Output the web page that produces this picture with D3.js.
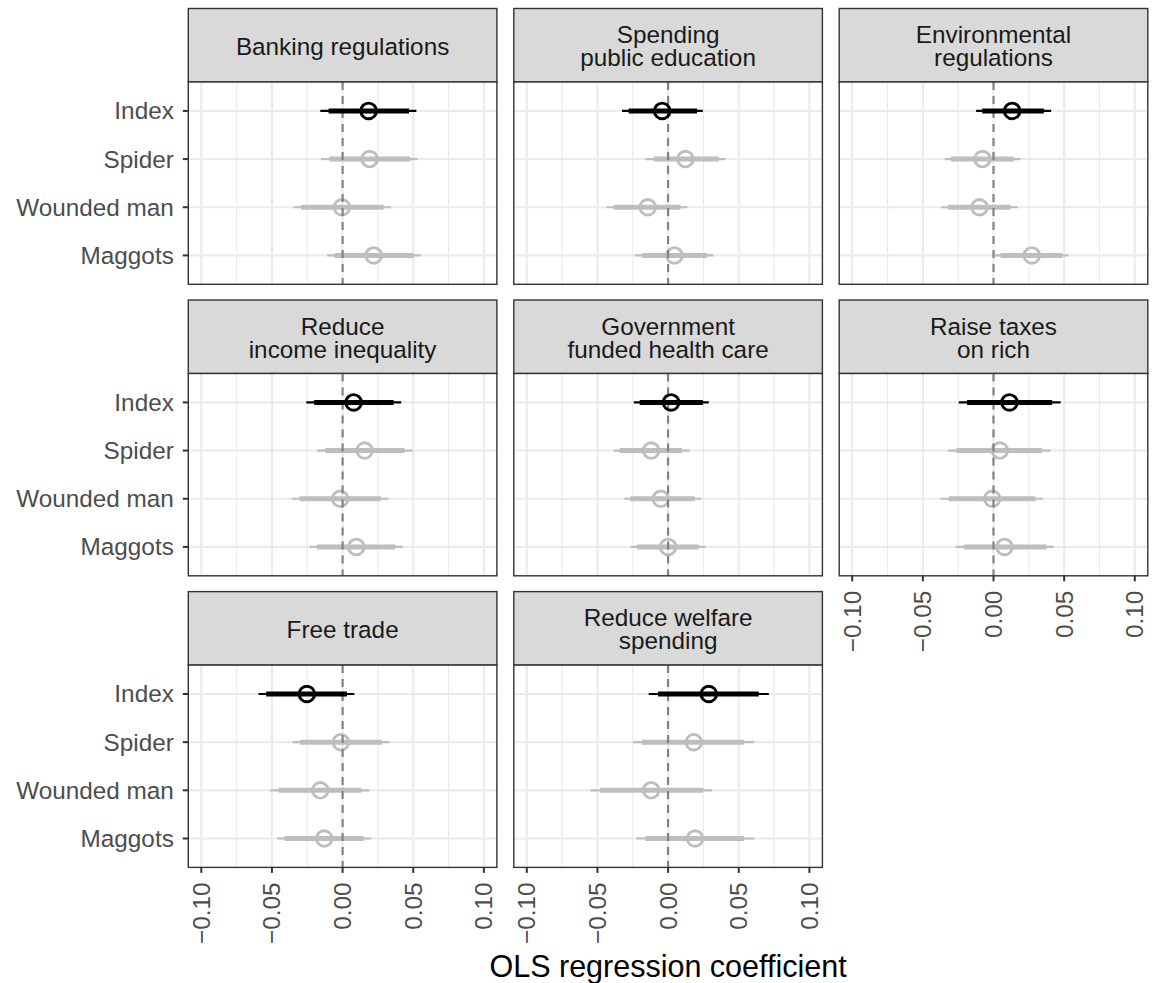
<!DOCTYPE html>
<html>
<head>
<meta charset="utf-8">
<script src="https://cdn.jsdelivr.net/npm/d3@7"></script>
<style>
  html, body { margin: 0; padding: 0; background: #fff; }
  svg { display: block; font-family: "Liberation Sans", Arial, Helvetica, sans-serif; }
</style>
</head>
<body>
<svg id="chart" width="1160" height="983"></svg>
<script>
// ---------------- data ----------------
const panels = [
  "Banking regulations",
  "Spending\npublic education",
  "Environmental\nregulations",
  "Reduce\nincome inequality",
  "Government\nfunded health care",
  "Raise taxes\non rich",
  "Free trade",
  "Reduce welfare\nspending"
];
const models = ["Index", "Spider", "Wounded man", "Maggots"];

// point estimates per panel (rows: panels; cols: models)
const estimate = [
  [ 0.0184,  0.0191, -0.0005,  0.0220],
  [-0.0042,  0.0123, -0.0144,  0.0045],
  [ 0.0132, -0.0078, -0.0099,  0.0271],
  [ 0.0078,  0.0156, -0.0017,  0.0097],
  [ 0.0021, -0.0120, -0.0052,  0.0000],
  [ 0.0113,  0.0045, -0.0009,  0.0078],
  [-0.0253, -0.0012, -0.0158, -0.0130],
  [ 0.0288,  0.0182, -0.0120,  0.0191]
];
// inner (thick) interval
const innerLow = [
  [-0.0099, -0.0094, -0.0295, -0.0057],
  [-0.0279, -0.0102, -0.0385, -0.0184],
  [-0.0080, -0.0300, -0.0323,  0.0050],
  [-0.0201, -0.0123, -0.0305, -0.0182],
  [-0.0201, -0.0342, -0.0267, -0.0220],
  [-0.0187, -0.0262, -0.0316, -0.0210],
  [-0.0541, -0.0300, -0.0453, -0.0411],
  [-0.0071, -0.0184, -0.0482, -0.0161]
];
const innerHigh = [
  [ 0.0470,  0.0479,  0.0290,  0.0503],
  [ 0.0205,  0.0359,  0.0087,  0.0276],
  [ 0.0356,  0.0144,  0.0120,  0.0486],
  [ 0.0361,  0.0439,  0.0271,  0.0373],
  [ 0.0246,  0.0099,  0.0189,  0.0217],
  [ 0.0415,  0.0345,  0.0297,  0.0375],
  [ 0.0031,  0.0279,  0.0132,  0.0149],
  [ 0.0642,  0.0538,  0.0248,  0.0538]
];
// outer (thin) interval
const outerLow = [
  [-0.0158, -0.0153, -0.0347, -0.0111],
  [-0.0326, -0.0161, -0.0437, -0.0236],
  [-0.0123, -0.0345, -0.0371,  0.0009],
  [-0.0257, -0.0182, -0.0359, -0.0234],
  [-0.0243, -0.0385, -0.0309, -0.0264],
  [-0.0246, -0.0321, -0.0375, -0.0269],
  [-0.0595, -0.0354, -0.0512, -0.0465],
  [-0.0137, -0.0248, -0.0550, -0.0227]
];
const outerHigh = [
  [ 0.0522,  0.0531,  0.0342,  0.0555],
  [ 0.0246,  0.0406,  0.0137,  0.0321],
  [ 0.0408,  0.0191,  0.0172,  0.0529],
  [ 0.0415,  0.0496,  0.0326,  0.0427],
  [ 0.0288,  0.0153,  0.0234,  0.0264],
  [ 0.0475,  0.0404,  0.0352,  0.0427],
  [ 0.0083,  0.0331,  0.0189,  0.0203],
  [ 0.0713,  0.0609,  0.0312,  0.0609]
];
const xTicks = [-0.10, -0.05, 0.00, 0.05, 0.10];
const xTickLabels = ["\u22120.10", "\u22120.05", "0.00", "0.05", "0.10"];
const xMinor = [-0.075, -0.025, 0.025, 0.075];
const xTitle = "OLS regression coefficient";

// ---------------- layout ----------------
const svg = d3.select("#chart");
const colX = [188.3, 513.8, 839.2];
const rowY = [8.5, 300.0, 591.6];
const panelW = 308.6;
const stripH = 73.5;
const plotH = 202.3;
const xDomain = [-0.1092, 0.1092];
const fs = 24.3;

const x = d3.scaleLinear().domain(xDomain).range([0, panelW]);
const y = d3.scalePoint().domain(models).range([0, plotH]).padding(0.6);

const greyCol = "#bebebe";
const colorFor = m => m === "Index" ? "#000000" : greyCol;

panels.forEach((title, i) => {
  const col = i % 3, row = Math.floor(i / 3);
  const gx = colX[col], gy = rowY[row];
  const g = svg.append("g").attr("transform", `translate(${gx},${gy})`);

  // strip
  g.append("rect").attr("x", 0).attr("y", 0).attr("width", panelW).attr("height", stripH)
    .attr("fill", "#d9d9d9").attr("stroke", "#333333").attr("stroke-width", 1.4);
  const lines = title.split("\n");
  const lh = 23.3;
  const st = g.append("text")
    .attr("text-anchor", "middle")
    .attr("font-size", fs)
    .attr("fill", "#1a1a1a");
  lines.forEach((ln, k) => {
    st.append("tspan")
      .attr("x", panelW / 2)
      .attr("y", stripH / 2 + 1 + (k - (lines.length - 1) / 2) * lh)
      .attr("dy", "0.35em")
      .text(ln);
  });

  // plot panel
  const p = g.append("g").attr("transform", `translate(0,${stripH})`);
  p.append("rect").attr("width", panelW).attr("height", plotH).attr("fill", "#ffffff");
  // minor grid
  p.selectAll("line.minor").data(xMinor).enter().append("line")
    .attr("x1", d => x(d)).attr("x2", d => x(d)).attr("y1", 0).attr("y2", plotH)
    .attr("stroke", "#ebebeb").attr("stroke-width", 1.1);
  // major grid
  p.selectAll("line.majorx").data(xTicks).enter().append("line")
    .attr("x1", d => x(d)).attr("x2", d => x(d)).attr("y1", 0).attr("y2", plotH)
    .attr("stroke", "#ebebeb").attr("stroke-width", 2.1);
  p.selectAll("line.majory").data(models).enter().append("line")
    .attr("x1", 0).attr("x2", panelW).attr("y1", d => y(d)).attr("y2", d => y(d))
    .attr("stroke", "#ebebeb").attr("stroke-width", 2.1);

  const rows = models.map((m, j) => ({
    m, est: estimate[i][j], il: innerLow[i][j], ih: innerHigh[i][j],
    ol: outerLow[i][j], oh: outerHigh[i][j]
  }));
  const drawRows = (sel) => {
    sel.forEach(d => {
      const c = colorFor(d.m);
      p.append("line").attr("x1", x(d.ol)).attr("x2", x(d.oh))
        .attr("y1", y(d.m)).attr("y2", y(d.m))
        .attr("stroke", c).attr("stroke-width", 2.2);
      p.append("line").attr("x1", x(d.il)).attr("x2", x(d.ih))
        .attr("y1", y(d.m)).attr("y2", y(d.m))
        .attr("stroke", c).attr("stroke-width", 5);
      p.append("circle").attr("cx", x(d.est)).attr("cy", y(d.m)).attr("r", 7.8)
        .attr("fill", "none").attr("stroke", c).attr("stroke-width", 2.9);
    });
  };
  drawRows(rows.filter(d => d.m !== "Index"));
  // zero reference line
  p.append("line").attr("x1", x(0)).attr("x2", x(0)).attr("y1", 0).attr("y2", plotH)
    .attr("stroke", "#7f7f7f").attr("stroke-width", 2.1).attr("stroke-dasharray", "8,6");
  drawRows(rows.filter(d => d.m === "Index"));

  // border
  p.append("rect").attr("width", panelW).attr("height", plotH)
    .attr("fill", "none").attr("stroke", "#333333").attr("stroke-width", 1.4);

  // y axis (first column)
  if (col === 0) {
    const ya = p.append("g");
    models.forEach(m => {
      ya.append("line").attr("x1", -5.5).attr("x2", 0).attr("y1", y(m)).attr("y2", y(m))
        .attr("stroke", "#333333").attr("stroke-width", 2);
      ya.append("text").attr("x", -14.5).attr("y", y(m)).attr("dy", "0.35em")
        .attr("text-anchor", "end").attr("font-size", fs).attr("fill", "#4d4d4d").text(m);
    });
  }
  // x axis (bottom panels of each column)
  const hasX = (row === 2) || (row === 1 && col === 2);
  if (hasX) {
    const xa = p.append("g").attr("transform", `translate(0,${plotH})`);
    xTicks.forEach((t, k) => {
      xa.append("line").attr("x1", x(t)).attr("x2", x(t)).attr("y1", 0).attr("y2", 5.5)
        .attr("stroke", "#333333").attr("stroke-width", 2);
      xa.append("text")
        .attr("transform", `translate(${x(t)},${15}) rotate(-90)`)
        .attr("dy", "0.35em")
        .attr("text-anchor", "end")
        .attr("font-size", fs).attr("fill", "#4d4d4d")
        .text(xTickLabels[k]);
    });
  }
});

// axis title
svg.append("text")
  .attr("x", (colX[0] + colX[2] + panelW) / 2)
  .attr("y", 977)
  .attr("text-anchor", "middle")
  .attr("font-size", 30.5)
  .attr("fill", "#000000")
  .text(xTitle);
</script>
</body>
</html>
